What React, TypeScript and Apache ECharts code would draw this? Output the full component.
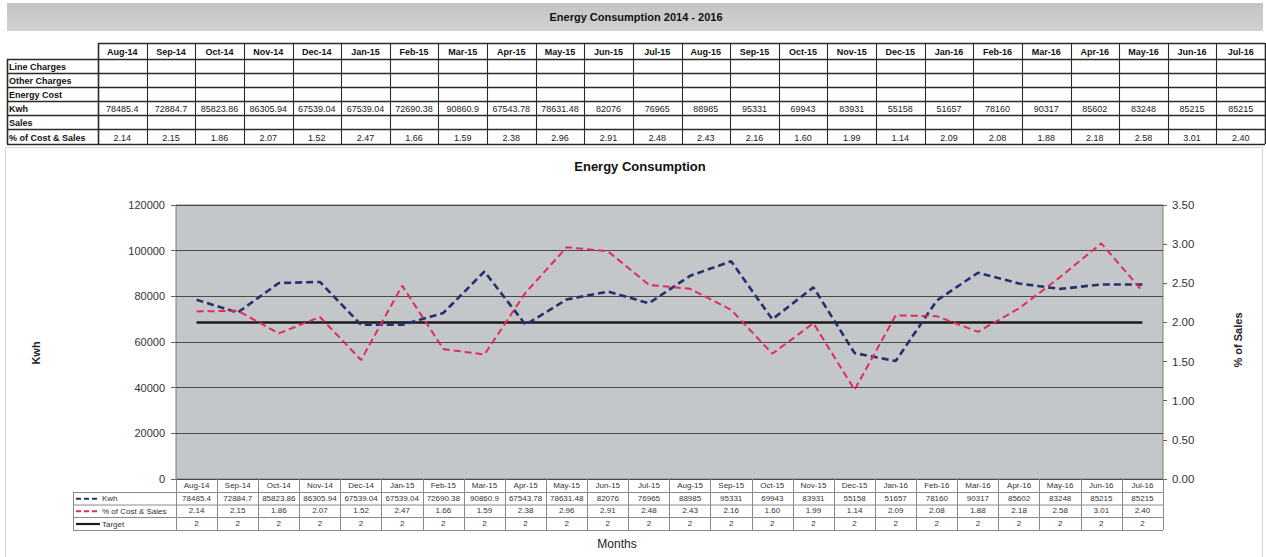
import React, { useEffect, useRef } from "react";
import * as echarts from "echarts";

const months = ["Aug-14","Sep-14","Oct-14","Nov-14","Dec-14","Jan-15","Feb-15","Mar-15","Apr-15","May-15","Jun-15","Jul-15","Aug-15","Sep-15","Oct-15","Nov-15","Dec-15","Jan-16","Feb-16","Mar-16","Apr-16","May-16","Jun-16","Jul-16"];
const kwh = [78485.4,72884.7,85823.86,86305.94,67539.04,67539.04,72690.38,90860.9,67543.78,78631.48,82076,76965,88985,95331,69943,83931,55158,51657,78160,90317,85602,83248,85215,85215];
const pctCostSales = [2.14,2.15,1.86,2.07,1.52,2.47,1.66,1.59,2.38,2.96,2.91,2.48,2.43,2.16,1.60,1.99,1.14,2.09,2.08,1.88,2.18,2.58,3.01,2.40];
const target = [2,2,2,2,2,2,2,2,2,2,2,2,2,2,2,2,2,2,2,2,2,2,2,2];
const rowLabels = ["Line Charges","Other Charges","Energy Cost","Kwh","Sales","% of Cost & Sales"];
const leftTicks = { min: 0, max: 120000, interval: 20000 };
const rightTicks = { min: 0, max: 3.5, interval: 0.5 };

const FONT = '"Liberation Sans", Arial, sans-serif';
const KWH_COLOR = "#25316f";
const PCT_COLOR = "#e22a5c";
const TARGET_COLOR = "#1c1c1c";

function line(x1: number, y1: number, x2: number, y2: number, stroke: string, lw = 1, dash?: number[]) {
  return { type: "line", silent: true, shape: { x1, y1, x2, y2 }, style: { stroke, lineWidth: lw, lineDash: dash } };
}
function text(t: string, x: number, y: number, font: string, align = "center", fill = "#111", rotation = 0) {
  return { type: "text", silent: true, x, y, rotation, style: { text: t, font, fill, textAlign: align, textVerticalAlign: "middle" } };
}

export default function App() {
  const ref = useRef<HTMLDivElement>(null);
  useEffect(() => {
    if (!ref.current) return;
    const chart = echarts.init(ref.current, null, { renderer: "svg" });
    const G: any[] = [];

    // chart outer border
    G.push({ type: "rect", silent: true, shape: { x: 5.5, y: 147.5, width: 1257, height: 420 }, style: { fill: "none", stroke: "#d4d4d4", lineWidth: 1 } });

    // title bar
    G.push({ type: "rect", silent: true, shape: { x: 7, y: 3, width: 1256, height: 28 }, style: { fill: new echarts.graphic.LinearGradient(0, 0, 0, 1, [{ offset: 0, color: "#c4c4c4" }, { offset: 1, color: "#d2d2d2" }]) } });
    G.push(text("Energy Consumption 2014 - 2016", 636, 17, `bold 11px ${FONT}`));

    // top table
    const tx0 = 7, tx1 = 98, tRight = 1265;
    const cw = (tRight - tx1) / months.length;
    const rowY = [43, 59, 73, 87, 101, 115, 129, 144];
    rowY.forEach((y, i) => {
      const x0 = i === 0 ? tx1 : tx0;
      G.push(line(x0, y + 0.5, tRight, y + 0.5, "#2a2a2a", i === 0 || i === rowY.length - 1 ? 1.6 : 1.3));
    });
    G.push(line(tx0 + 0.5, rowY[1], tx0 + 0.5, rowY[7], "#2a2a2a", 1.6));
    for (let c = 0; c <= months.length; c++) {
      const x = Math.round(tx1 + c * cw) + 0.5;
      G.push(line(x, rowY[0], x, rowY[7], "#2a2a2a", c === 0 || c === months.length ? 1.6 : 1.1));
    }
    months.forEach((m, c) => {
      const cx = tx1 + (c + 0.5) * cw;
      G.push(text(m, cx, (rowY[0] + rowY[1]) / 2 + 1, `bold 9px ${FONT}`));
      G.push(text(String(kwh[c]), cx, (rowY[4] + rowY[5]) / 2 + 1, `9px ${FONT}`, "center", "#222"));
      G.push(text(pctCostSales[c].toFixed(2), cx, (rowY[6] + rowY[7]) / 2 + 1, `9px ${FONT}`, "center", "#222"));
    });
    rowLabels.forEach((l, r) => {
      G.push(text(l, tx0 + 2, (rowY[r + 1] + rowY[r + 2]) / 2 + 1, `bold 9px ${FONT}`, "left", "#111"));
    });

    // chart titles
    G.push(text("Energy Consumption", 640, 166, `bold 13px ${FONT}`));
    G.push(text("Months", 617, 544, `12px ${FONT}`, "center", "#222"));
    G.push(text("Kwh", 36, 353, `bold 11px ${FONT}`, "center", "#222", Math.PI / 2));
    G.push(text("% of Sales", 1238, 340, `bold 11px ${FONT}`, "center", "#222", Math.PI / 2));

    // data table under chart
    const gl = 176, gr = 1163, gt = 205, gb = 479;
    const legL = 73;
    const dRows = [492, 504.5, 517, 530];
    dRows.forEach((y) => G.push(line(legL, y + 0.5, gr, y + 0.5, "#8a8a8a", 1)));
    G.push(line(legL + 0.5, dRows[0], legL + 0.5, dRows[3], "#8a8a8a", 1));
    const legend = [
      { name: "Kwh", color: KWH_COLOR, dash: [5, 3] },
      { name: "% of Cost & Sales", color: PCT_COLOR, dash: [5, 3] },
      { name: "Target", color: TARGET_COLOR, dash: undefined },
    ];
    legend.forEach((lg, i) => {
      const cy = (dRows[i] + dRows[i + 1]) / 2 + 0.5;
      G.push(line(76, cy, 100, cy, lg.color, 2.2, lg.dash));
      G.push(text(lg.name, 102, cy, `8px ${FONT}`, "left", "#333"));
    });

    const option: any = {
      animation: false,
      textStyle: { fontFamily: FONT },
      grid: { left: gl, top: gt, width: gr - gl, height: gb - gt, show: true, backgroundColor: "#c4c7c9", borderColor: "#7a7a7a", borderWidth: 1 },
      xAxis: {
        type: "category",
        data: months,
        boundaryGap: true,
        axisLine: { show: false },
        axisTick: { show: true, interval: 0, length: 51, lineStyle: { color: "#8a8a8a" } },
        splitLine: { show: false },
        axisLabel: {
          interval: 0,
          margin: 0,
          formatter: (v: string, i: number) =>
            `{m|${v}}\n{v|${kwh[i]}}\n{v|${pctCostSales[i].toFixed(2)}}\n{v|${target[i]}}`,
          rich: {
            m: { fontSize: 8, lineHeight: 13, color: "#333", fontFamily: FONT },
            v: { fontSize: 8, lineHeight: 12.5, color: "#333", fontFamily: FONT },
          },
        },
      },
      yAxis: [
        {
          type: "value",
          min: leftTicks.min,
          max: leftTicks.max,
          interval: leftTicks.interval,
          axisLine: { show: false },
          axisTick: { show: true, length: 5, lineStyle: { color: "#666" } },
          axisLabel: { color: "#333", fontSize: 11, margin: 11, fontFamily: FONT, formatter: (v: number) => String(v) },
          splitLine: { show: true, lineStyle: { color: "#4a4a4a", width: 1 } },
        },
        {
          type: "value",
          position: "right",
          min: rightTicks.min,
          max: rightTicks.max,
          interval: rightTicks.interval,
          axisLine: { show: false },
          axisTick: { show: true, length: 4, lineStyle: { color: "#666" } },
          axisLabel: { color: "#333", fontSize: 11.5, margin: 9, fontFamily: FONT, formatter: (v: number) => v.toFixed(2) },
          splitLine: { show: false },
        },
      ],
      series: [
        { name: "Kwh", type: "line", yAxisIndex: 0, data: kwh, symbol: "none", lineStyle: { color: KWH_COLOR, width: 2.6, type: [7, 4] }, z: 3 },
        { name: "% of Cost & Sales", type: "line", yAxisIndex: 1, data: pctCostSales, symbol: "none", lineStyle: { color: PCT_COLOR, width: 2, type: [7, 4] }, z: 4 },
        { name: "Target", type: "line", yAxisIndex: 1, data: target, symbol: "none", lineStyle: { color: TARGET_COLOR, width: 2.5 }, z: 2 },
      ],
      graphic: G,
    };
    chart.setOption(option);
    return () => chart.dispose();
  }, []);
  return <div ref={ref} style={{ position: "fixed", left: 0, top: 0, width: 1266, height: 557, background: "#fff" }} />;
}
